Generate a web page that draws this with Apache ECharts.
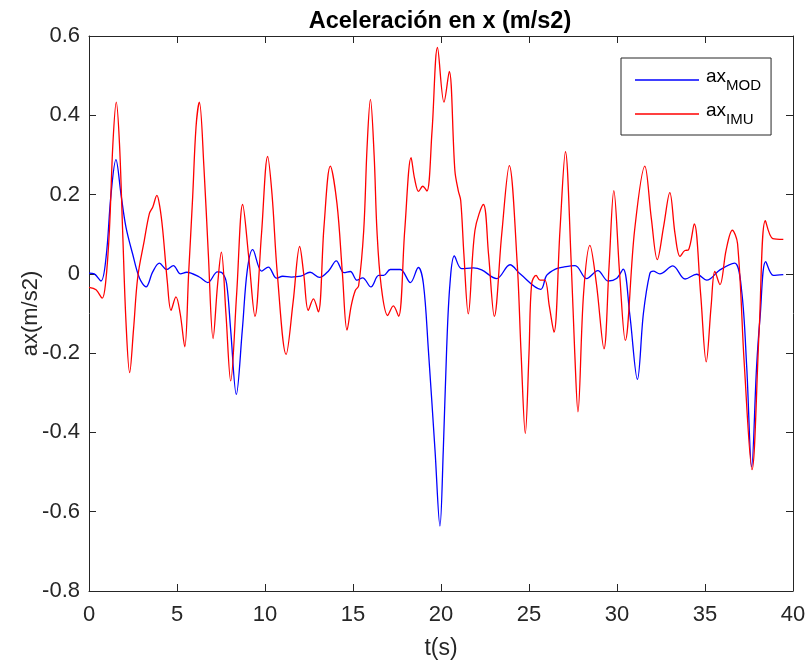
<!DOCTYPE html>
<html>
<head>
<meta charset="utf-8">
<script src="https://cdn.jsdelivr.net/npm/echarts@6/dist/echarts.min.js"></script>
<style>
html,body{margin:0;padding:0;background:#fff;}
#c{width:806px;height:661px;}
</style>
</head>
<body>
<div id="c"></div>
<script>
// ---- data ----
var tMod = [0,0.3,0.68,0.97,1.25,1.53,1.82,2.1,2.48,2.86,3.24,3.62,4.0,4.41,4.79,5.2,5.55,6.27,6.75,7.3,7.58,7.82,8.05,8.37,8.71,8.99,9.3,9.81,10.19,10.66,11.0,11.5,12.03,12.56,13.1,13.62,14.05,14.48,14.85,15.23,15.55,16.02,16.46,16.74,17.12,17.69,18.26,18.71,19.0,19.28,19.66,19.94,20.13,20.32,20.51,20.76,21.17,21.84,22.31,23.16,23.92,24.49,25.66,26.0,26.5,26.95,27.62,28.27,28.91,29.5,29.97,30.35,30.72,31.16,31.5,31.86,32.06,32.43,33.17,33.87,34.53,35.1,35.85,36.68,37.08,37.37,37.65,37.93,38.13,38.45,38.88,39.45];
var axMod = [0.002,0.0,-0.018,0.042,0.2,0.288,0.2,0.118,0.05,-0.01,-0.033,0.005,0.027,0.011,0.021,0.0,0.004,-0.008,-0.022,0.005,0.002,-0.025,-0.142,-0.304,-0.142,0.008,0.061,0.007,0.017,-0.011,-0.006,-0.008,-0.006,0.004,-0.009,0.008,0.033,0.003,0.006,-0.016,-0.01,-0.033,-0.004,-0.004,0.011,0.011,-0.022,0.016,-0.025,-0.19,-0.445,-0.636,-0.445,-0.19,-0.025,0.045,0.013,0.015,0.01,-0.012,0.023,0.0,-0.039,-0.004,0.012,0.017,0.021,-0.012,0.008,-0.018,-0.012,0.012,-0.1,-0.266,-0.1,0.0,0.007,0.0,0.02,-0.013,-0.001,-0.016,0.01,0.027,-0.042,-0.235,-0.487,-0.235,-0.109,0.031,-0.004,-0.002];

var tImu = [0,0.4,0.75,0.95,1.16,1.36,1.55,1.73,1.91,2.1,2.31,2.53,2.77,3.14,3.43,3.62,3.86,4.02,4.19,4.45,4.66,4.94,5.18,5.44,5.66,5.89,6.08,6.27,6.53,6.78,7.05,7.3,7.52,7.78,8.05,8.39,8.73,9.08,9.43,9.8,10.15,10.4,10.7,11.2,11.6,11.97,12.2,12.46,12.75,13.03,13.35,13.71,14.09,14.4,14.66,14.9,15.13,15.32,15.61,15.8,15.99,16.2,16.36,16.6,16.97,17.29,17.59,17.94,18.3,18.5,18.73,18.96,19.2,19.49,19.8,20.17,20.47,20.79,20.98,21.12,21.3,21.55,21.93,22.41,22.7,23.03,23.45,23.88,24.33,24.55,24.79,25.0,25.15,25.4,25.63,25.9,26.15,26.42,26.76,27.07,27.4,27.6,27.78,28.1,28.46,28.83,29.26,29.55,29.82,30.15,30.47,31.0,31.58,31.95,32.29,32.65,33.0,33.3,33.58,33.86,34.05,34.39,34.75,35.07,35.35,35.56,35.85,36.2,36.55,36.85,37.23,37.67,38.08,38.43,38.85,39.45];
var axImu = [-0.034,-0.04,-0.061,-0.02,0.11,0.33,0.433,0.33,0.11,-0.12,-0.249,-0.14,-0.008,0.084,0.152,0.168,0.198,0.17,0.11,-0.02,-0.092,-0.058,-0.1,-0.184,0.0,0.194,0.37,0.433,0.269,0.05,-0.163,-0.03,0.055,-0.1,-0.27,-0.05,0.175,0.04,-0.107,0.1,0.296,0.2,0.0,-0.203,-0.07,0.069,0.0,-0.092,-0.063,-0.096,0.118,0.272,0.177,0.0,-0.142,-0.08,-0.042,-0.03,0.11,0.32,0.44,0.3,0.11,-0.03,-0.105,-0.081,-0.107,0.11,0.293,0.24,0.208,0.221,0.209,0.36,0.571,0.433,0.511,0.26,0.21,0.185,0.05,-0.101,0.11,0.175,0.05,-0.107,0.1,0.273,0.026,-0.2,-0.403,-0.2,-0.025,-0.004,-0.016,-0.016,-0.08,-0.147,0.11,0.308,0.026,-0.2,-0.348,-0.05,0.072,-0.025,-0.189,0.02,0.21,0.0,-0.168,0.11,0.272,0.14,0.036,0.12,0.205,0.1,0.044,0.059,0.06,0.126,-0.05,-0.222,-0.08,0.006,-0.027,0.06,0.11,0.076,-0.226,-0.494,-0.14,0.134,0.089,0.087];

var xTicks = [0,5,10,15,20,25,30,35,40];
var yTicks = [-0.8,-0.6,-0.4,-0.2,0,0.2,0.4,0.6];
var seriesNames = ['MOD','IMU'];
var titleText = 'Aceleración en x (m/s2)';
var xName = 't(s)';
var yName = 'ax(m/s2)';

function zip(a,b){ return a.map(function(v,i){ return [v,b[i]]; }); }

var FONT = '"Liberation Sans", Arial, Helvetica, sans-serif';
var AX = '#262626';

var chart = echarts.init(document.getElementById('c'), null, {renderer:'canvas'});

function baseX(pos, show){
  return {
    type:'value', position:pos, min:xTicks[0], max:xTicks[xTicks.length-1], interval:5,
    axisLine:{show:true, onZero:false, lineStyle:{color:AX, width:1}},
    axisTick:{show:true, inside:true, length:7, lineStyle:{color:AX, width:1}},
    splitLine:{show:false},
    axisLabel:{show:show, color:AX, fontSize:22, fontFamily:FONT, margin:13},
    name: show ? xName : '', nameLocation:'middle', nameGap:46, nameMoveOverlap:false,
    nameTextStyle:{color:AX, fontSize:23, fontFamily:FONT}
  };
}
function baseY(pos, show){
  return {
    type:'value', position:pos, min:yTicks[0], max:yTicks[yTicks.length-1], interval:0.2,
    axisLine:{show:true, onZero:false, lineStyle:{color:AX, width:1}},
    axisTick:{show:true, inside:true, length:7, lineStyle:{color:AX, width:1}},
    splitLine:{show:false},
    axisLabel:{show:show, color:AX, fontSize:22, fontFamily:FONT, margin:9, padding:[6,0,0,0],
      formatter:function(v){ return String(+(+v).toFixed(1)); }},
    name: show ? yName : '', nameLocation:'middle', nameGap:47, nameRotate:90, nameMoveOverlap:false,
    nameTextStyle:{color:AX, fontSize:22, fontFamily:FONT}
  };
}

var colors = ['#0000ff','#ff0000'];

chart.setOption({
  animation:false,
  backgroundColor:'#ffffff',
  title:{text:titleText, left:435, textAlign:'center', top:5,
    textStyle:{color:'#000', fontSize:23.5, fontWeight:'bold', fontFamily:FONT}},
  grid:{left:89, right:13, top:36, bottom:70, containLabel:false, outerBoundsMode:'none'},
  xAxis:[baseX('bottom', true), baseX('top', false)],
  yAxis:[baseY('left', true), baseY('right', false)],
  legend:{
    orient:'vertical', left:621, top:58, icon:'rect',
    backgroundColor:'#ffffff', borderColor:AX, borderWidth:1,
    padding:[9,10,8,14], itemGap:8, itemWidth:64, itemHeight:1.4,
    data:seriesNames,
    formatter:function(n){ return '{b|ax}{s|' + n + '}'; },
    textStyle:{color:'#000', fontFamily:FONT,
      rich:{
        b:{fontSize:19, fontFamily:FONT, color:'#000', lineHeight:26, verticalAlign:'top', padding:[0,0,0,2]},
        s:{fontSize:15, fontFamily:FONT, color:'#000', lineHeight:16, verticalAlign:'bottom', padding:[10,0,0,0]}
      }}
  },
  series:[
    {name:seriesNames[0], type:'line', data:zip(tMod,axMod), smooth:0.35, symbol:'none',
      xAxisIndex:0, yAxisIndex:0, color:colors[0], lineStyle:{color:colors[0], width:1.3}, z:2},
    {name:seriesNames[1], type:'line', data:zip(tImu,axImu), smooth:0.35, symbol:'none',
      xAxisIndex:0, yAxisIndex:0, color:colors[1], lineStyle:{color:colors[1], width:1.3}, z:3}
  ]
});
</script>
</body>
</html>
